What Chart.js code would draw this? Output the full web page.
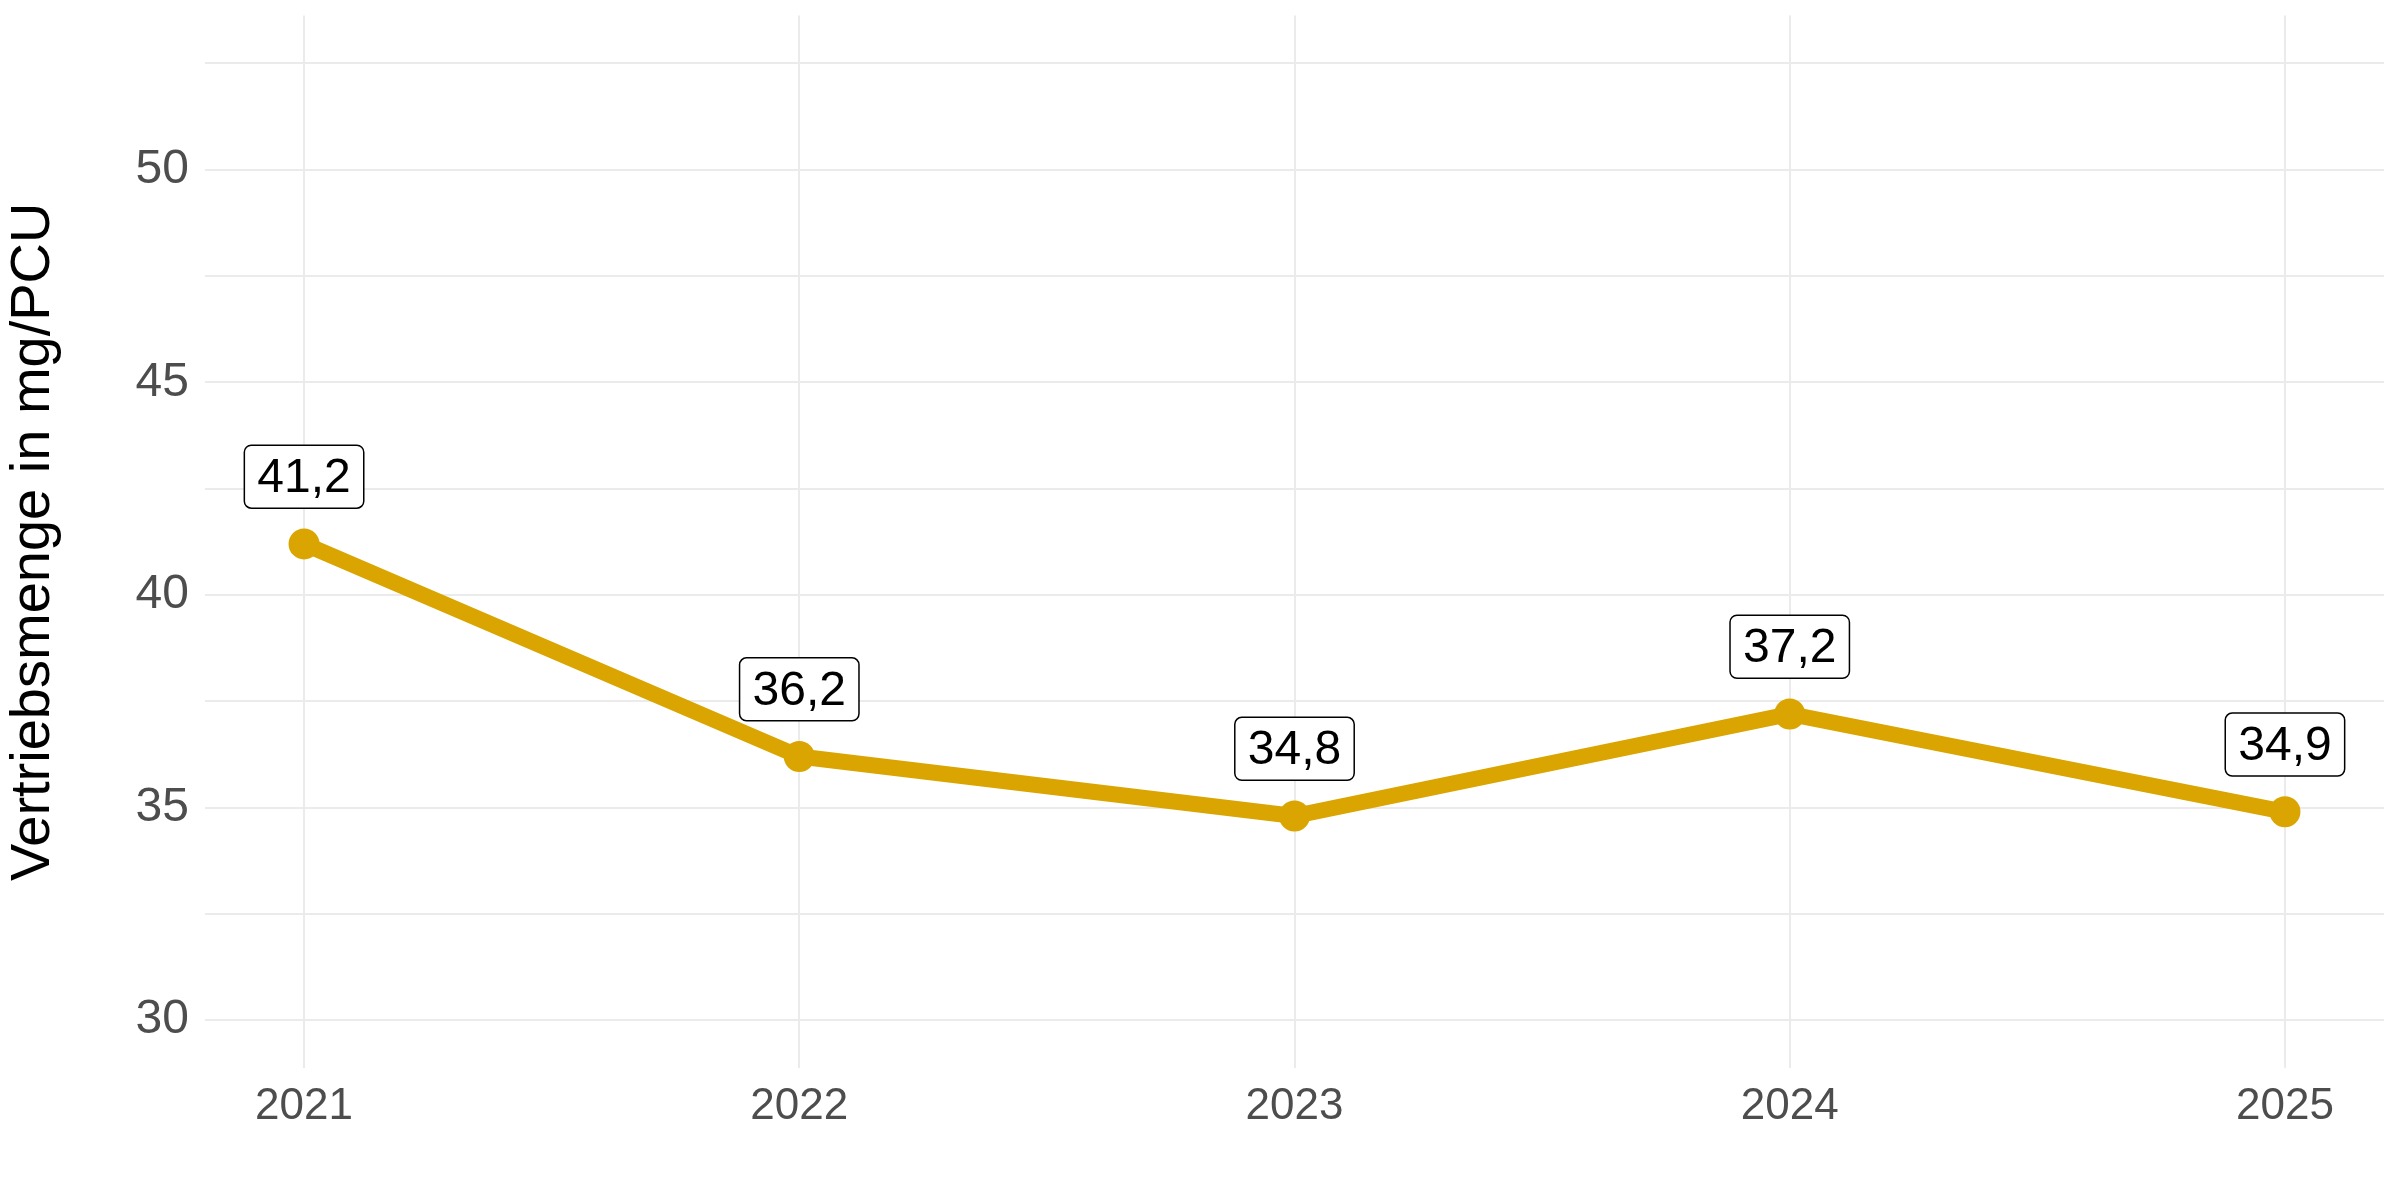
<!DOCTYPE html>
<html>
<head>
<meta charset="utf-8">
<script src="https://cdn.jsdelivr.net/npm/chart.js@4/dist/chart.umd.min.js"></script>
<style>
  html, body { margin: 0; padding: 0; background: #fff; }
  canvas { display: block; }
</style>
</head>
<body>
<canvas id="lineChart" width="2400" height="1200" style="width:2400px;height:1200px"></canvas>
<script>
// data
const years = [2021, 2022, 2023, 2024, 2025];
const values = [41.2, 36.2, 34.8, 37.2, 34.9];
const yTicks = [30, 32.5, 35, 37.5, 40, 42.5, 45, 47.5, 50, 52.5];
const yLabelled = [30, 35, 40, 45, 50];
const yTitle = "Vertriebsmenge in mg/PCU";

const lineColor = "#DAA500";
const gridColor = "#EBEBEB";
const labelNudge = 1.58;

// boxed value labels above the points
const valueLabels = {
    id: "valueLabels",
    afterDatasetsDraw(chart) {
        const ctx = chart.ctx;
        const xs = chart.scales.x;
        const ys = chart.scales.y;
        ctx.save();
        ctx.font = "48px 'Liberation Sans', Arial, sans-serif";
        ctx.textAlign = "center";
        ctx.textBaseline = "middle";
        values.forEach((v, i) => {
            const text = v.toFixed(1).replace(".", ",");
            const cx = xs.getPixelForValue(years[i]);
            const cy = ys.getPixelForValue(v + labelNudge);
            const w = ctx.measureText(text).width + 26;
            const h = 63;
            ctx.beginPath();
            ctx.roundRect(cx - w / 2, cy - h / 2, w, h, 7);
            ctx.fillStyle = "#ffffff";
            ctx.fill();
            ctx.lineWidth = 1.5;
            ctx.strokeStyle = "#000000";
            ctx.stroke();
            ctx.fillStyle = "#000000";
            ctx.fillText(text, cx, cy + 2);
        });
        ctx.restore();
    },
};

const ctx = document.getElementById("lineChart").getContext("2d");
const lineChart = new Chart(ctx, {
    type: "line",
    data: {
        datasets: [
            {
                data: years.map((y, i) => ({ x: y, y: values[i] })),
                borderColor: lineColor,
                backgroundColor: lineColor,
                borderWidth: 16,
                borderJoinStyle: "round",
                pointRadius: 15.5,
                pointBackgroundColor: lineColor,
                pointBorderWidth: 0,
                fill: false,
                tension: 0,
            },
        ],
    },
    options: {
        responsive: false,
        animation: false,
        devicePixelRatio: 1,
        layout: {
            padding: { top: 15, right: 16, left: 0, bottom: 0 },
        },
        plugins: {
            legend: { display: false },
            tooltip: { enabled: false },
            title: { display: false },
        },
        scales: {
            x: {
                type: "linear",
                min: 2020.8,
                max: 2025.2,
                afterBuildTicks: (scale) => {
                    scale.ticks = years.map((y) => ({ value: y }));
                },
                afterFit: (scale) => {
                    scale.height = 132;
                    scale.paddingLeft = 0;
                    scale.paddingRight = 0;
                },
                ticks: {
                    color: "#4D4D4D",
                    font: { family: "'Liberation Sans', Arial, sans-serif", size: 44 },
                    padding: 12,
                    callback: (v) => String(v),
                },
                grid: {
                    color: gridColor,
                    lineWidth: 2,
                    drawTicks: false,
                },
                border: { display: false },
            },
            y: {
                min: 28.875,
                max: 53.625,
                afterBuildTicks: (scale) => {
                    scale.ticks = yTicks.map((t) => ({ value: t }));
                },
                afterFit: (scale) => {
                    scale.width = 205;
                    scale.paddingTop = 0;
                    scale.paddingBottom = 0;
                },
                ticks: {
                    color: "#4D4D4D",
                    font: { family: "'Liberation Sans', Arial, sans-serif", size: 48 },
                    padding: 16,
                    autoSkip: false,
                    callback: (v) => (yLabelled.includes(v) ? String(v) : ""),
                },
                grid: {
                    color: gridColor,
                    lineWidth: 2,
                    drawTicks: false,
                },
                border: { display: false },
                title: {
                    display: true,
                    text: yTitle,
                    color: "#000000",
                    font: { family: "'Liberation Sans', Arial, sans-serif", size: 56 },
                    padding: 0,
                },
            },
        },
    },
    plugins: [valueLabels],
});
</script>
</body>
</html>
